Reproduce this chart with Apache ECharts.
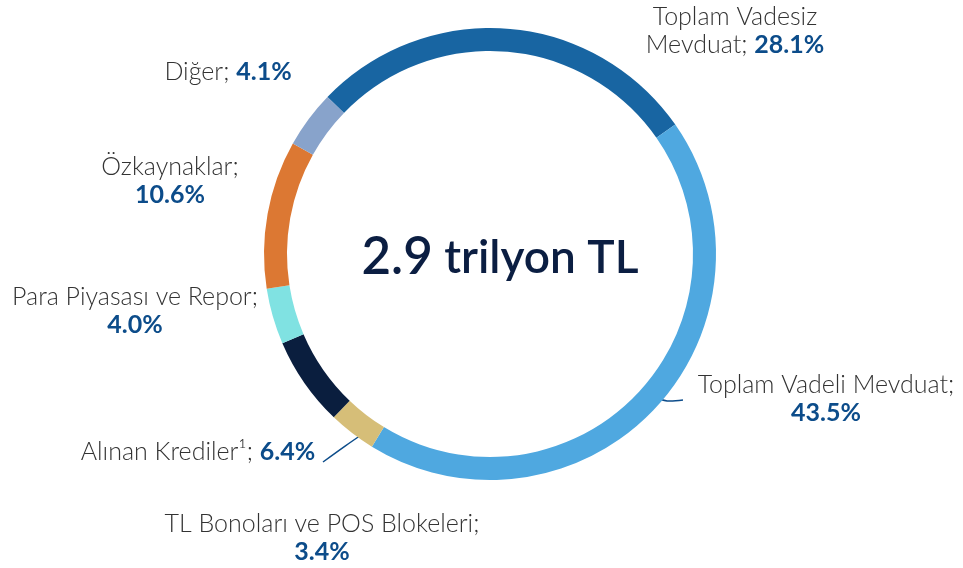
<!DOCTYPE html>
<html>
<head>
<meta charset="utf-8">
<script src="https://cdn.jsdelivr.net/npm/echarts@6/dist/echarts.min.js"></script>
<style>
html,body{margin:0;padding:0;background:#fff;}
#chart{width:963px;height:568px;}
</style>
</head>
<body>
<div id="chart"></div>
<script>
// ---- data ----
const categories = [
  'Toplam Vadesiz Mevduat',
  'Toplam Vadeli Mevduat',
  'TL Bonoları ve POS Blokeleri',
  'Alınan Krediler¹',
  'Para Piyasası ve Repor',
  'Özkaynaklar',
  'Diğer'
];
const values = [28.1, 43.5, 3.4, 6.4, 4.0, 10.6, 4.1];
const labelTemplates = [
  'Toplam Vadesiz\nMevduat; {v}',
  'Toplam Vadeli Mevduat;\n{v}',
  'TL Bonoları ve POS Blokeleri;\n{v}',
  'Alınan Krediler¹; {v}',
  'Para Piyasası ve Repor;\n{v}',
  'Özkaynaklar;\n{v}',
  'Diğer; {v}'
];
const centerText = ['2.9', 'trilyon TL'];

// ---- styles / layout ----
const colors = ['#1865a2', '#4fa8e0', '#d6be78', '#0a1e3e', '#80e2e2', '#dc7833', '#88a3cb'];
const labelPos = [
  {x: 735, y: 31},
  {x: 826, y: 399, line: [[650, 396], [667, 402], [683, 400]]},
  {x: 322, y: 538},
  {x: 198, y: 452, line: [[323, 462], [345, 446], [367, 431]]},
  {x: 135, y: 311},
  {x: 170, y: 181},
  {x: 228, y: 72}
];

const chart = echarts.init(document.getElementById('chart'), null, {renderer: 'canvas'});

function fmt(params) {
  const tpl = labelTemplates[params.dataIndex];
  const v = params.value.toFixed(1) + '%';
  return tpl.split('\n').map(line => {
    const parts = line.split('{v}');
    let out = '';
    if (parts[0]) out += '{n|' + parts[0] + '}';
    if (parts.length > 1) out += '{p|' + v + '}';
    return out;
  }).join('\n');
}

const option = {
  animation: false,
  backgroundColor: '#ffffff',
  graphic: [{
    type: 'text',
    x: 500,
    y: 258,
    style: {
      text: '{a|' + centerText[0] + '}{b| ' + centerText[1] + '}',
      align: 'center',
      verticalAlign: 'middle',
      rich: {
        a: {fontFamily: 'Lato', fontWeight: 600, fontSize: 51, fill: '#0b1e42'},
        b: {fontFamily: 'Lato', fontWeight: 600, fontSize: 46, fill: '#0b1e42'}
      }
    }
  }],
  series: [{
    type: 'pie',
    center: [490, 254],
    radius: [203, 226],
    startAngle: 136,
    clockwise: true,
    silent: true,
    emphasis: {disabled: true},
    itemStyle: {borderWidth: 0},
    data: categories.map((c, i) => ({
      name: c,
      value: values[i],
      itemStyle: {color: colors[i]},
      labelLine: {show: !!labelPos[i].line}
    })),
    label: {
      show: true,
      position: 'outside',
      alignTo: 'none',
      overflow: 'none',
      formatter: fmt,
      lineHeight: 28,
      rich: {
        n: {fontFamily: 'Lato', fontWeight: 300, fontSize: 25, color: '#333333', lineHeight: 28},
        p: {fontFamily: 'Lato', fontWeight: 700, fontSize: 25, color: '#0c4c8a', lineHeight: 28}
      }
    },
    labelLine: {
      show: true,
      lineStyle: {color: '#0c4c8a', width: 1.5},
      smooth: 0.3
    },
    labelLayout: function (params) {
      const p = labelPos[params.dataIndex];
      const r = {x: p.x, y: p.y, align: 'center', verticalAlign: 'middle', hideOverlap: false};
      if (p.line) r.labelLinePoints = p.line;
      return r;
    }
  }]
};
chart.setOption(option);
</script>
</body>
</html>
